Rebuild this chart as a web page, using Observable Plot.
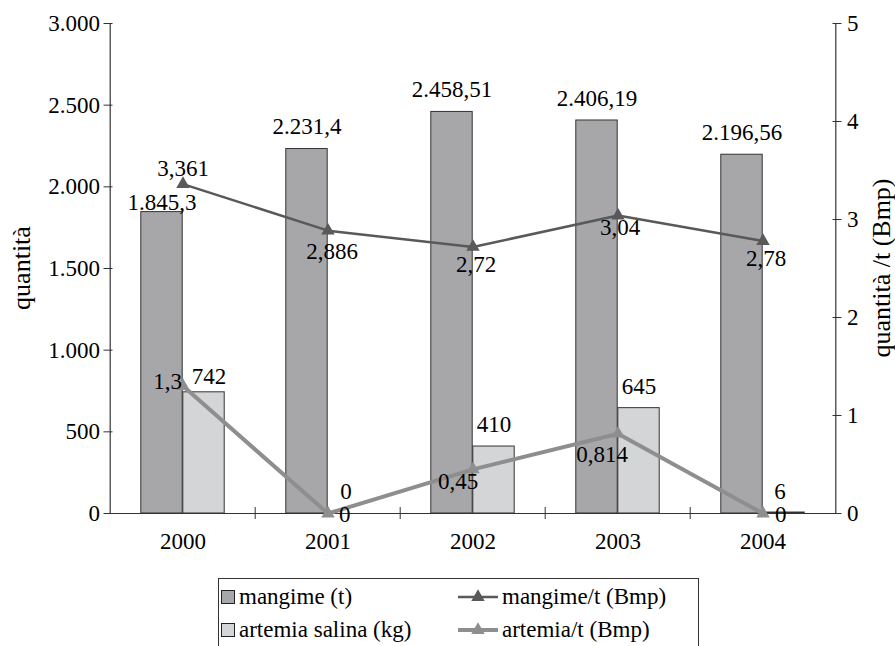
<!DOCTYPE html>
<html>
<head>
<meta charset="utf-8">
<script src="https://cdn.jsdelivr.net/npm/d3@7"></script>
<script src="https://cdn.jsdelivr.net/npm/@observablehq/plot@0.6"></script>
<style>
  html, body { margin: 0; padding: 0; background: #fff; }
  #wrap { position: relative; width: 895px; height: 646px; overflow: hidden; font-family: "Liberation Serif", "Times New Roman", serif; }
  #legend {
    position: absolute; left: 218px; top: 578px; width: 481px; height: 90px;
    border: 1px solid #333; box-sizing: border-box; font-size: 23px; color: #000;
  }
  .item { position: absolute; display: flex; align-items: center; height: 33px; white-space: nowrap; }
  .sq { width: 12px; height: 12px; border: 1px solid #222; margin-right: 4px; }
  .ln { margin-right: 4px; }
  .ytitle {
    position: absolute; font-size: 26px; line-height: 1; white-space: nowrap; color: #000;
    transform: translate(-50%, -50%) rotate(-90deg);
  }
</style>
</head>
<body>
<div id="wrap">
  <div id="chart"></div>
  <div class="ytitle" id="ytitle-left"></div>
  <div class="ytitle" id="ytitle-right"></div>
  <div id="legend"></div>
</div>
<script>
// Consumi annui: mangime e artemia salina, con resa per tonnellata (Bmp)
const years = ["2000", "2001", "2002", "2003", "2004"];
const mangime = [1845.3, 2231.4, 2458.51, 2406.19, 2196.56];      // t
const artemia = [742, 0, 410, 645, 6];                             // kg
const mangimePerT = [3.361, 2.886, 2.72, 3.04, 2.78];              // Bmp
const artemiaPerT = [1.3, 0, 0.45, 0.814, 0];                      // Bmp
const leftTicks = [0, 500, 1000, 1500, 2000, 2500, 3000];
const rightTicks = [0, 1, 2, 3, 4, 5];
const leftTitle = "quantità";
const rightTitle = "quantità /t (Bmp)";

const seriesNames = {
  mangime: "mangime (t)",
  artemia: "artemia salina (kg)",
  mangimePerT: "mangime/t (Bmp)",
  artemiaPerT: "artemia/t (Bmp)"
};

const colors = {
  mangime: "#a7a7aa",
  artemia: "#d4d5d7",
  mangimePerT: "#595959",
  artemiaPerT: "#8e8e8e"
};

// right axis (0–5) drawn on the left scale (0–3000)
const leftMax = 3000, rightMax = 5;
const k = leftMax / rightMax;

const it = d3.formatLocale({decimal: ",", thousands: ".", grouping: [3], currency: ["€", ""]});
const fmt = it.format(",");

const rows = years.map((year, i) => ({
  year,
  mangime: mangime[i],
  artemia: artemia[i],
  mangimePerT: mangimePerT[i],
  artemiaPerT: artemiaPerT[i]
}));

// frame geometry
const W = 895, H = 560;
const mL = 108, mR = 59, mT = 23, mB = 47;
const bw = (W - mL - mR) / years.length;   // band width per year
const barW = bw * 0.2885;
const half = bw / 2;

// label offsets (pixels) per year
const mangimeLabelDy = [-9, -22, -22, -22, -22];
const artemiaLabel = [{dx: 5, dy: -16}, {dx: -3, dy: -22}, {dx: 0, dy: -22}, {dx: 0, dy: -22}, {dx: -4, dy: -21}];
const mangimeRateLabel = [
  {dx: 0, dy: -15, anchor: "middle"},
  {dx: 4, dy: 21, anchor: "middle"},
  {dx: 3, dy: 18, anchor: "middle"},
  {dx: 2, dy: 12, anchor: "middle"},
  {dx: 3, dy: 18, anchor: "middle"}
];
const artemiaRateLabel = [
  {dx: -1, dy: -4, anchor: "end"},
  {dx: 11, dy: 1, anchor: "start"},
  {dx: -15, dy: 12, anchor: "middle"},
  {dx: -16, dy: 21, anchor: "middle"},
  {dx: 12, dy: 1, anchor: "start"}
];

const perPointText = (yOf, textOf, layout) =>
  rows.map((d, i) => Plot.text([d], {
    x: "year",
    y: yOf,
    text: textOf,
    dx: layout[i].dx,
    dy: layout[i].dy,
    textAnchor: layout[i].anchor || "middle",
    lineAnchor: "middle",
    fill: "#000"
  }));

const chart = Plot.plot({
  width: W,
  height: H,
  marginLeft: mL,
  marginRight: mR,
  marginTop: mT,
  marginBottom: mB,
  style: {fontFamily: "'Liberation Serif', 'Times New Roman', serif", fontSize: "23px", color: "#222", background: "#fff"},
  x: {type: "band", domain: years, padding: 0, axis: null},
  y: {domain: [0, leftMax], axis: null},
  marks: [
    // bars
    Plot.barY(rows, {x: "year", y: "mangime", fill: colors.mangime, stroke: "#333", strokeWidth: 1,
      insetLeft: half - barW, insetRight: half}),
    Plot.barY(rows, {x: "year", y: "artemia", fill: colors.artemia, stroke: "#333", strokeWidth: 1,
      insetLeft: half, insetRight: half - barW}),

    // frame: baseline and the two vertical axis lines
    Plot.ruleY([0], {stroke: "#333", strokeWidth: 1.2}),
    Plot.ruleX([years[0]], {dx: -half, y1: 0, y2: leftMax, stroke: "#333", strokeWidth: 1.2}),
    Plot.ruleX([years[years.length - 1]], {dx: half, y1: 0, y2: leftMax, stroke: "#333", strokeWidth: 1.2}),

    // left axis
    Plot.axisY({anchor: "left", ticks: leftTicks, tickFormat: fmt, tickSize: 9, dx: 4.5, tickPadding: 4,
      label: null, fill: "#000", stroke: "#333"}),
    // right axis
    Plot.axisY({anchor: "right", ticks: rightTicks.map(v => v * k), tickFormat: v => fmt(v / k),
      tickSize: 9, dx: -4.5, tickPadding: 6, label: null, fill: "#000", stroke: "#333"}),
    // category labels and the boundary ticks between them
    Plot.axisX({anchor: "bottom", tickSize: 0, tickPadding: 19, label: null, fill: "#000"}),
    Plot.axisX({anchor: "bottom", ticks: years.slice(1), tickSize: 12, dx: -half, dy: -6,
      tickFormat: () => "", label: null, stroke: "#333"}),

    // rate lines with triangle markers
    Plot.line(rows, {x: "year", y: d => d.mangimePerT * k, stroke: colors.mangimePerT, strokeWidth: 2.5}),
    Plot.dot(rows, {x: "year", y: d => d.mangimePerT * k, symbol: "triangle", r: 5, fill: colors.mangimePerT, stroke: "none"}),
    Plot.line(rows, {x: "year", y: d => d.artemiaPerT * k, stroke: colors.artemiaPerT, strokeWidth: 4}),
    Plot.dot(rows, {x: "year", y: d => d.artemiaPerT * k, symbol: "triangle", r: 5, fill: colors.artemiaPerT, stroke: "none"}),

    // value labels
    ...rows.map((d, i) => Plot.text([d], {x: "year", y: "mangime", text: r => fmt(r.mangime),
      dx: -barW / 2, dy: mangimeLabelDy[i], lineAnchor: "middle", fill: "#000"})),
    ...rows.map((d, i) => Plot.text([d], {x: "year", y: "artemia", text: r => fmt(r.artemia),
      dx: barW / 2 + artemiaLabel[i].dx, dy: artemiaLabel[i].dy, lineAnchor: "middle", fill: "#000"})),
    ...perPointText(d => d.mangimePerT * k, d => fmt(d.mangimePerT), mangimeRateLabel),
    ...perPointText(d => d.artemiaPerT * k, d => fmt(d.artemiaPerT), artemiaRateLabel)
  ]
});
document.getElementById("chart").appendChild(chart);

// vertical axis titles, centred on the plot frame
const frameMidY = mT + (H - mT - mB) / 2;
const tl = document.getElementById("ytitle-left");
tl.textContent = leftTitle;
tl.style.left = "22px";
tl.style.top = frameMidY + "px";
const tr = document.getElementById("ytitle-right");
tr.textContent = rightTitle;
tr.style.left = "882px";
tr.style.top = frameMidY + "px";

// legend
const legend = document.getElementById("legend");
const items = [
  {key: "mangime", type: "bar", left: 2, top: 1},
  {key: "artemia", type: "bar", left: 2, top: 34},
  {key: "mangimePerT", type: "line", left: 239, top: 1},
  {key: "artemiaPerT", type: "line", left: 239, top: 34}
];
for (const item of items) {
  const el = document.createElement("div");
  el.className = "item";
  el.style.left = item.left + "px";
  el.style.top = item.top + "px";
  if (item.type === "bar") {
    const sw = document.createElement("span");
    sw.className = "sq";
    sw.style.background = colors[item.key];
    el.appendChild(sw);
  } else {
    const w = item.key === "mangimePerT" ? 2.5 : 4;
    const tri = d3.symbol(d3.symbolTriangle, Math.PI * 25)();
    const sw = document.createElementNS("http://www.w3.org/2000/svg", "svg");
    sw.setAttribute("width", 40);
    sw.setAttribute("height", 16);
    sw.setAttribute("class", "ln");
    sw.innerHTML = `<line x1="0" x2="40" y1="8" y2="8" stroke="${colors[item.key]}" stroke-width="${w}"/>` +
      `<path d="${tri}" transform="translate(20,8)" fill="${colors[item.key]}"/>`;
    el.appendChild(sw);
  }
  const t = document.createElement("span");
  t.textContent = seriesNames[item.key];
  el.appendChild(t);
  legend.appendChild(el);
}
</script>
</body>
</html>
